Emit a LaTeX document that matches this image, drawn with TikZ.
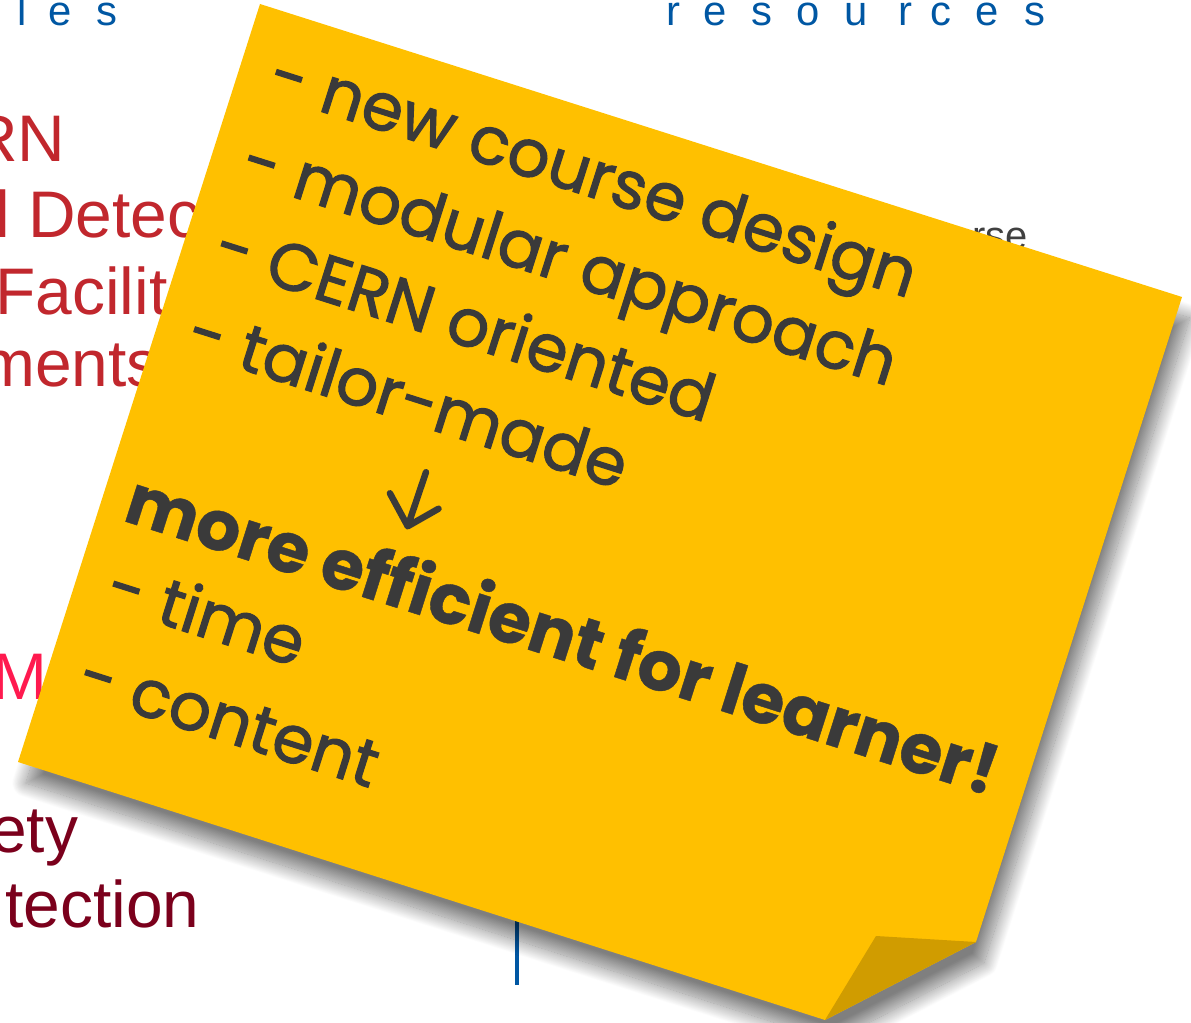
\documentclass[tikz,border=0pt]{standalone}
\usepackage{fontspec}
\setmainfont{Liberation Sans}
\newfontfamily\notefont{Poppins}[FakeBold=1.6]
\newfontfamily\noteboldfont{Poppins}[FakeBold=0.6]
\usetikzlibrary{shadows.blur}
\definecolor{slideblue}{HTML}{0057A3}
\definecolor{slidered}{HTML}{C1272D}
\definecolor{slidepink}{HTML}{FF1A4F}
\definecolor{slidewine}{HTML}{7B001C}
\definecolor{slidegrey}{HTML}{404040}
\definecolor{notegold}{HTML}{FFC000}
\definecolor{notefold}{HTML}{D09C00}
\definecolor{noteink}{HTML}{3A3A3A}

\begin{document}
\begin{tikzpicture}[x=0.02cm, y=-0.02cm,
    slidetxt/.style={anchor=base west, inner sep=0pt, font=\fontsize{37.5}{40}\selectfont},
    header/.style={anchor=base west, inner sep=0pt, text=slideblue, font=\fontsize{23.8}{26}\selectfont},
    notetxt/.style={anchor=base west, inner sep=0pt, text=noteink, font=\notefont\fontsize{37.6}{42}\selectfont},
    notebold/.style={notetxt, font=\noteboldfont\bfseries\fontsize{39.4}{44}\selectfont}]
  \useasboundingbox (0,0) rectangle (1191,1023);
  \clip (0,0) rectangle (1191,1023);

  % slide underneath
  \foreach \ch/\px [count=\i] in {l/17, e/48, s/96}
    \node[header] (les\i) at (\px,26) {\ch};
  \foreach \ch/\px [count=\i] in {r/666, e/703, s/751, o/796, u/844, r/898, c/930, e/975, s/1024}
    \node[header] (res\i) at (\px,26) {\ch};

  \node[slidetxt, text=slidered] (rn) at (-30,162) {RN};
  \node[slidetxt, text=slidered] (detec) at (-5,238) {l Detec};
  \node[slidetxt, text=slidered] (facil) at (-5,315) {Facilit};
  \node[slidetxt, text=slidered] (ments) at (-20,387) {ments};
  \node[slidetxt, text=slidepink] (ma) at (-8,700) {Ma};
  \node[slidetxt, text=slidewine] (ety) at (-10,852) {ety};
  \node[slidetxt, text=slidewine] (tect) at (5,928) {tection};
  \node[anchor=base west, inner sep=0pt, text=slidegrey, font=\fontsize{22.7}{24}\selectfont] (rse) at (972,250) {rse};
  \draw[slideblue, line width=0.08cm] (517,880) -- (517,985);

  % sticky note
  \coordinate (tl) at (260,4);
  \coordinate (tr) at (1182,297);
  \coordinate (fr) at (976,942);
  \coordinate (fin) at (876,936);
  \coordinate (ftip) at (825,1020);
  \coordinate (bl) at (18,762);
  \fill[notegold, blur shadow={shadow xshift=4.5pt, shadow yshift=-12pt, shadow blur radius=8pt, shadow blur steps=24, shadow opacity=50}]
    (tl) -- (tr) -- (fr) -- (ftip) -- (bl) -- cycle;
  \fill[notefold] (fr) -- (fin) -- (ftip) -- cycle;

  \begin{scope}[shift={(tl)}, rotate=-17.63, transform shape]
    \node[notetxt] (ln1) at (32,84) {- new course design};
    \node[notetxt] (ln2) at (32,174) {- modular approach};
    \node[notetxt] (ln3) at (32,264) {- CERN oriented};
    \node[notetxt] (ln4) at (32,354) {- tailor-made};
    \draw[noteink, line width=0.13cm, line cap=round, line join=round]
      (300,396) -- (299,453) (272,427) -- (299,453) -- (323,427);
    \node[notebold] (ln6) at (24,534) {more efficient for learner!};
    \node[notetxt] (ln7) at (32,621) {- time};
    \node[notetxt] (ln8) at (32,714) {- content};
  \end{scope}
\end{tikzpicture}
\end{document}
